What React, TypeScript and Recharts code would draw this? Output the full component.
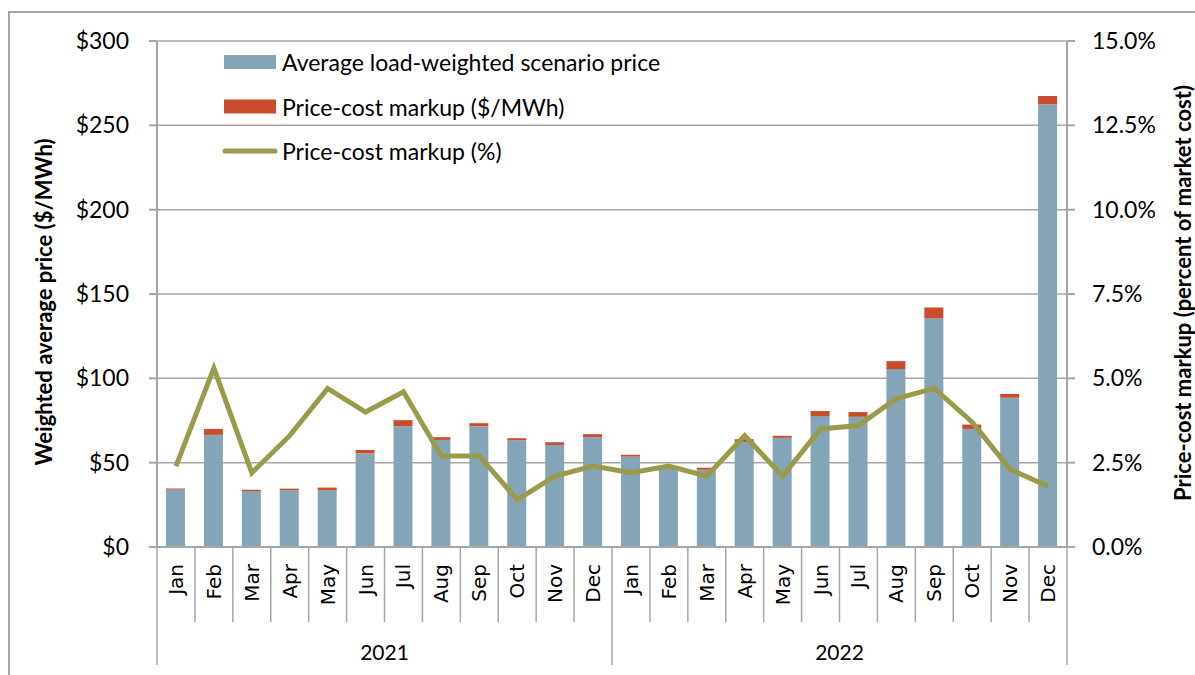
import { Bar, ComposedChart, CartesianGrid, Line, XAxis, YAxis } from 'recharts'

const MONTHS = ['Jan', 'Feb', 'Mar', 'Apr', 'May', 'Jun', 'Jul', 'Aug', 'Sep', 'Oct', 'Nov', 'Dec']
const YEARS = ['2021', '2022']

// $/MWh
const price2021 = [34, 66.5, 33.2, 33.6, 33.6, 55.5, 71.6, 63.5, 71.5, 63.3, 60.5, 65.1]
const price2022 = [53.6, 47.5, 45.8, 62.1, 64.7, 77.6, 77.2, 105.5, 135.5, 70, 88.5, 262.4]
const markup2021 = [0.7, 3.5, 0.8, 1.0, 1.6, 2.0, 3.6, 1.6, 1.9, 1.2, 1.6, 1.8]
const markup2022 = [1.1, 0.5, 1.2, 1.8, 1.2, 3.0, 2.8, 4.7, 6.5, 2.6, 2.2, 5.0]
// percent of market cost
const pct2021 = [2.4, 5.3, 2.2, 3.3, 4.7, 4.0, 4.6, 2.7, 2.7, 1.4, 2.1, 2.4]
const pct2022 = [2.2, 2.4, 2.1, 3.3, 2.1, 3.5, 3.6, 4.4, 4.7, 3.7, 2.3, 1.8]

const LEFT_TICKS = [0, 50, 100, 150, 200, 250, 300]
const RIGHT_TICKS = [0, 2.5, 5, 7.5, 10, 12.5, 15]

const BLUE = '#84a5b8'
const RED = '#ca4c2b'
const OLIVE = '#9a9b4a'
const GRID = '#a6a6a6'
const FONT = 'Lato, "Open Sans", sans-serif'

const W = 1195
const H = 675
const PLOT_LEFT = 157
const PLOT_RIGHT = 1067
const PLOT_BOTTOM = 547
const BAND = (PLOT_RIGHT - PLOT_LEFT) / 24

const data = [
  ...MONTHS.map((m, i) => ({
    key: `${YEARS[0]}-${m}`,
    month: m,
    price: price2021[i],
    markup: markup2021[i],
    pct: pct2021[i],
  })),
  ...MONTHS.map((m, i) => ({
    key: `${YEARS[1]}-${m}`,
    month: m,
    price: price2022[i],
    markup: markup2022[i],
    pct: pct2022[i],
  })),
]

function MonthTick(props: any) {
  const { x, index } = props
  const month = data[index]?.month ?? ''
  const left = x - BAND / 2
  const right = x + BAND / 2
  const isYearStart = index % 12 === 0
  return (
    <g>
      <line
        x1={left}
        x2={left}
        y1={PLOT_BOTTOM}
        y2={isYearStart ? 665 : 622}
        stroke={GRID}
        strokeWidth={1.5}
      />
      {index === data.length - 1 && (
        <line x1={right} x2={right} y1={PLOT_BOTTOM} y2={665} stroke={GRID} strokeWidth={1.5} />
      )}
      <text
        x={x}
        y={564}
        transform={`rotate(-90 ${x} 564)`}
        textAnchor="end"
        dominantBaseline="central"
        fontFamily='"DejaVu Sans", sans-serif'
        fontSize={20}
        fill="#000"
      >
        {month}
      </text>
      {index % 12 === 5 && (
        <text
          x={right}
          y={651}
          textAnchor="middle"
          dominantBaseline="central"
          fontFamily={FONT}
          fontSize={21}
          fill="#000"
        >
          {YEARS[Math.floor(index / 12)]}
        </text>
      )}
    </g>
  )
}

function LegendBox() {
  const rows = [
    { label: 'Average load-weighted scenario price', kind: 'bar', color: BLUE },
    { label: 'Price-cost markup ($/MWh)', kind: 'bar', color: RED },
    { label: 'Price-cost markup (%)', kind: 'line', color: OLIVE },
  ]
  return (
    <svg
      width={500}
      height={130}
      style={{ position: 'absolute', left: 224, top: 45, overflow: 'visible' }}
    >
      {rows.map((r, i) => {
        const cy = 17 + i * 44.5
        return (
          <g key={r.label}>
            {r.kind === 'bar' ? (
              <rect x={0} y={cy - 7} width={52} height={14} fill={r.color} />
            ) : (
              <line x1={1} x2={51} y1={cy} y2={cy} stroke={r.color} strokeWidth={5} strokeLinecap="round" />
            )}
            <text x={58} y={cy} dominantBaseline="central" fontFamily={FONT} fontSize={23} fill="#000">
              {r.label}
            </text>
          </g>
        )
      })}
    </svg>
  )
}

function AxisTitles() {
  const style = { fontFamily: FONT, fontSize: 22, fontWeight: 700, fill: '#000' }
  return (
    <svg width={W} height={H} style={{ position: 'absolute', left: 0, top: 0, pointerEvents: 'none' }}>
      <text
        x={43}
        y={302}
        transform="rotate(-90 43 302)"
        textAnchor="middle"
        dominantBaseline="central"
        {...style}
      >
        Weighted average price ($/MWh)
      </text>
      <text
        x={1182}
        y={293}
        transform="rotate(-90 1182 293)"
        textAnchor="middle"
        dominantBaseline="central"
        {...style}
      >
        Price-cost markup (percent of market cost)
      </text>
    </svg>
  )
}

export default function App() {
  return (
    <div style={{ position: 'absolute', left: 0, top: 0, width: W, height: H, background: '#fff', overflow: 'hidden' }}>
      <div
        style={{
          position: 'absolute',
          left: 8,
          top: 11,
          width: W,
          height: H,
          borderLeft: `2px solid ${GRID}`,
          borderTop: `2px solid ${GRID}`,
          boxSizing: 'border-box',
        }}
      />
      <ComposedChart
        width={W}
        height={H}
        data={data}
        margin={{ top: 41, right: 0, bottom: 0, left: 0 }}
        barSize={19}
        style={{ position: 'absolute', left: 0, top: 0 }}
      >
        <CartesianGrid yAxisId="left" vertical={false} stroke={GRID} strokeWidth={1.5} />
        <XAxis
          dataKey="key"
          height={128}
          interval={0}
          tickLine={false}
          tick={<MonthTick />}
          axisLine={{ stroke: GRID, strokeWidth: 2 }}
        />
        <YAxis
          yAxisId="left"
          width={157}
          domain={[0, 300]}
          ticks={LEFT_TICKS}
          tickFormatter={(v) => `$${v}`}
          tick={{ fill: '#000', fontSize: 23, fontFamily: FONT }}
          tickSize={8}
          tickMargin={20}
          tickLine={{ stroke: GRID, strokeWidth: 2 }}
          axisLine={{ stroke: GRID, strokeWidth: 2 }}
        />
        <YAxis
          yAxisId="right"
          orientation="right"
          width={128}
          domain={[0, 15]}
          ticks={RIGHT_TICKS}
          tickFormatter={(v) => `${Number(v).toFixed(1)}%`}
          tick={{ fill: '#000', fontSize: 23, fontFamily: FONT }}
          tickSize={8}
          tickMargin={17}
          tickLine={{ stroke: GRID, strokeWidth: 2 }}
          axisLine={{ stroke: GRID, strokeWidth: 2 }}
        />
        <Bar yAxisId="left" dataKey="price" stackId="a" fill={BLUE} isAnimationActive={false} />
        <Bar yAxisId="left" dataKey="markup" stackId="a" fill={RED} isAnimationActive={false} />
        <Line
          yAxisId="right"
          dataKey="pct"
          stroke={OLIVE}
          strokeWidth={5}
          dot={false}
          activeDot={false}
          strokeLinejoin="miter"
          isAnimationActive={false}
        />
      </ComposedChart>
      <LegendBox />
      <AxisTitles />
    </div>
  )
}
